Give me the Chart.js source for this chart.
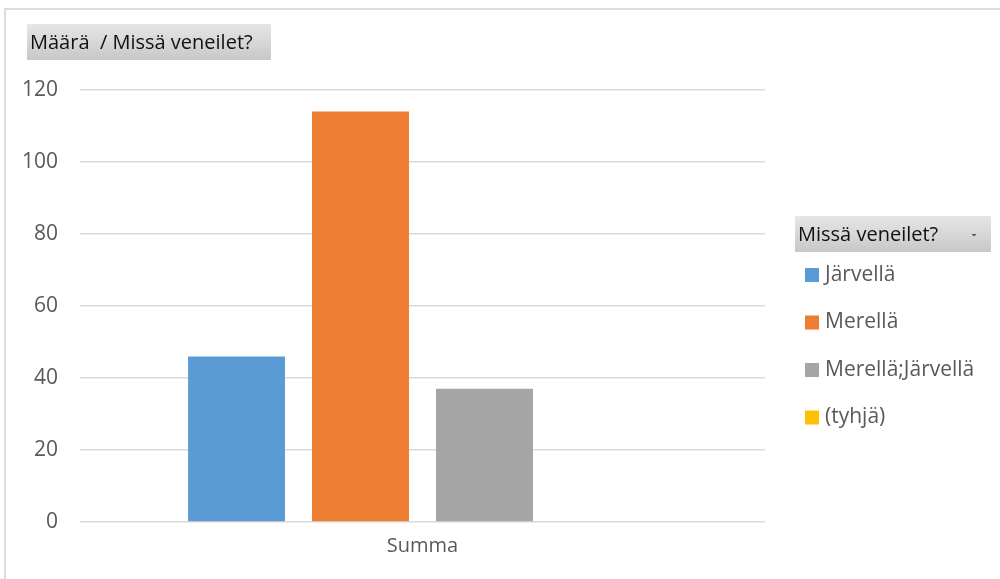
<!DOCTYPE html>
<html>
<head>
<meta charset="utf-8">
<script src="https://cdn.jsdelivr.net/npm/chart.js@4.4.1/dist/chart.umd.min.js"></script>
<style>
  html, body { margin: 0; padding: 0; background: #fff; }
  #wrap { position: relative; width: 1000px; height: 579px; }
  #frame {
    position: absolute; left: 4px; top: 8px; right: 0; bottom: 0;
    border-left: 2px solid #dcdcdc; border-top: 2px solid #dcdcdc;
  }
  canvas { position: absolute; left: 0; top: 0; }
</style>
</head>
<body>
<div id="wrap">
  <div id="frame"></div>
  <canvas id="chart" width="1000" height="579"></canvas>
</div>
<script>
// data
const categories   = ["Summa"];
const seriesNames  = ["Järvellä", "Merellä", "Merellä;Järvellä", "(tyhjä)"];
const seriesValues = [46, 114, 37, null];
const seriesColors = ["#5b9bd5", "#ed7d31", "#a5a5a5", "#ffc000"];
const yTicks       = [0, 20, 40, 60, 80, 100, 120];

const valueField  = "Määrä  / Missä veneilet?";
const legendField = "Missä veneilet?";

const FONT = "'Open Sans', 'Noto Sans', sans-serif";
const TEXT = "#595959";

// ─── FIELD BUTTONS + LEGEND ─────────────────────────────────
function fieldButton(ctx, x, y, w, h, label, arrow) {
    const g = ctx.createLinearGradient(0, y, 0, y + h);
    g.addColorStop(0, "#e6e6e6");
    g.addColorStop(1, "#c8c8c8");
    ctx.fillStyle = g;
    ctx.fillRect(x, y, w, h);
    ctx.fillStyle = "#111";
    ctx.font = "20px " + FONT;
    ctx.textBaseline = "middle";
    ctx.textAlign = "left";
    ctx.fillText(label, x + 3, y + h / 2 + 1);
    if (arrow) {
        const ax = x + w - 17, ay = y + h / 2 + 1;
        ctx.fillStyle = "#555";
        ctx.beginPath();
        ctx.moveTo(ax - 2.5, ay - 1);
        ctx.lineTo(ax + 2.5, ay - 1);
        ctx.lineTo(ax, ay + 1.5);
        ctx.closePath();
        ctx.fill();
    }
}

const pivotDecor = {
    id: "pivotDecor",
    afterDraw(chart) {
        const ctx = chart.ctx;
        ctx.save();
        fieldButton(ctx, 27, 24, 244, 36, valueField, false);
        fieldButton(ctx, 795, 216, 196, 36, legendField, true);

        ctx.font = "21px " + FONT;
        ctx.textBaseline = "middle";
        ctx.textAlign = "left";
        chart.data.datasets.forEach((ds, i) => {
            const cy = 275 + i * 47.5;
            ctx.fillStyle = ds.backgroundColor;
            ctx.fillRect(805, cy - 7, 14, 14);
            ctx.fillStyle = TEXT;
            ctx.fillText(ds.label, 825, cy);
        });
        ctx.restore();
    },
};

const datasets = seriesNames.map((name, i) => ({
    label: name,
    data: [seriesValues[i]],
    backgroundColor: seriesColors[i],
    borderWidth: 0,
    categoryPercentage: 0.724,
    barPercentage: 0.782,
}));

new Chart(document.getElementById("chart"), {
    type: "bar",
    data: { labels: categories, datasets },
    plugins: [pivotDecor],
    options: {
        responsive: false,
        animation: false,
        layout: { padding: { left: 0, right: 235, top: 90, bottom: 0 } },
        plugins: {
            legend: { display: false },
            tooltip: { enabled: false },
        },
        scales: {
            x: {
                grid: { display: false, drawTicks: false },
                border: { display: false },
                ticks: { color: TEXT, font: { family: FONT, size: 20 }, padding: 12 },
                afterFit: (s) => { s.height = 57; },
            },
            y: {
                min: 0,
                max: 120,
                afterBuildTicks: (s) => { s.ticks = yTicks.map(v => ({ value: v })); },
                grid: { color: "#d9d9d9", lineWidth: 1.5, drawTicks: false },
                border: { display: false },
                ticks: { color: TEXT, font: { family: FONT, size: 21 }, padding: 22 },
                afterFit: (s) => { s.width = 80; },
            },
        },
    },
});
</script>
</body>
</html>
